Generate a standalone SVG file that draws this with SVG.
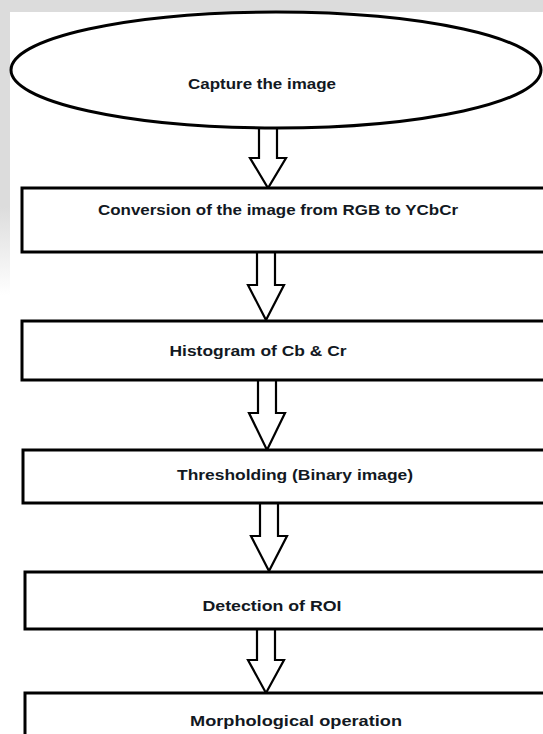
<svg xmlns="http://www.w3.org/2000/svg" width="543" height="734" viewBox="0 0 543 734">
<defs>
<style>
.node{fill:#fff;stroke:#000;stroke-width:3}
.lbl{font-family:"Liberation Sans",Arial,sans-serif;font-weight:bold;font-size:15.5px;fill:#121822;text-anchor:middle}
.arr{fill:#fff;stroke:#000;stroke-width:2.2;stroke-linejoin:miter}
</style>
<linearGradient id="fade" x1="0" y1="0" x2="0" y2="1">
<stop offset="0" stop-color="#dcdcdc"/>
<stop offset="0.7" stop-color="#dcdcdc"/>
<stop offset="1" stop-color="#ffffff"/>
</linearGradient>
</defs>
<rect x="0" y="0" width="543" height="734" fill="#fff"/>
<rect x="0" y="0" width="543" height="12" fill="#dcdcdc"/>
<rect x="0" y="0" width="10" height="295" fill="url(#fade)"/>
<g id="connectors">
<polygon class="arr" points="259,128 277,128 277,158 286,158 268,188 250,158 259,158"/>
<polygon class="arr" points="257,252 275,252 275,285 284,285 266,320 248,285 257,285"/>
<polygon class="arr" points="258,380 276,380 276,413 285,413 267,450 249,413 258,413"/>
<polygon class="arr" points="260,503 278,503 278,536 287,536 269,571 251,536 260,536"/>
<polygon class="arr" points="257,629 275,629 275,660 284,660 266,693 248,660 257,660"/>
</g>
<g id="n1">
<ellipse class="node" cx="276" cy="70" rx="265" ry="58"/>
<text class="lbl" x="262" y="89" textLength="148" lengthAdjust="spacingAndGlyphs">Capture the image</text>
</g>
<g id="n2">
<rect class="node" x="22" y="188" width="540" height="64"/>
<text class="lbl" x="278" y="215" textLength="360" lengthAdjust="spacingAndGlyphs">Conversion of the image from RGB to YCbCr</text>
</g>
<g id="n3">
<rect class="node" x="22" y="321" width="540" height="59"/>
<text class="lbl" x="258" y="356" textLength="177" lengthAdjust="spacingAndGlyphs">Histogram of Cb &amp; Cr</text>
</g>
<g id="n4">
<rect class="node" x="23" y="450" width="540" height="53"/>
<text class="lbl" x="295" y="480" textLength="236" lengthAdjust="spacingAndGlyphs">Thresholding (Binary image)</text>
</g>
<g id="n5">
<rect class="node" x="25" y="572" width="540" height="57"/>
<text class="lbl" x="272" y="611" textLength="139" lengthAdjust="spacingAndGlyphs">Detection of ROI</text>
</g>
<g id="n6">
<rect class="node" x="25" y="693" width="540" height="60"/>
<text class="lbl" x="296" y="726" textLength="212" lengthAdjust="spacingAndGlyphs">Morphological operation</text>
</g>
</svg>
